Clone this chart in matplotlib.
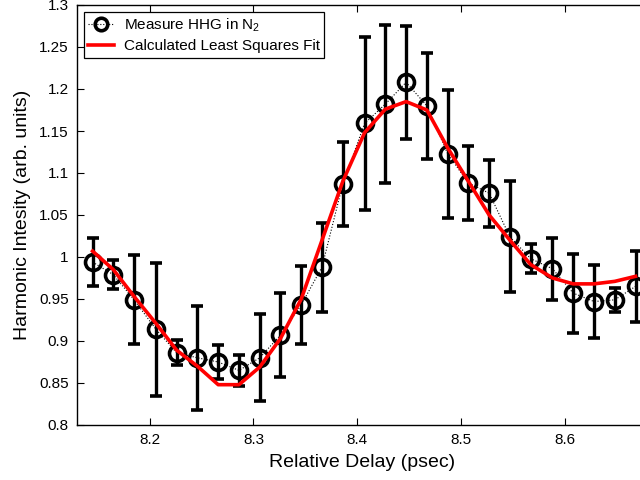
import matplotlib
matplotlib.use("Agg")
import matplotlib.pyplot as plt
from matplotlib.lines import Line2D

plt.rcParams["font.family"] = ["Liberation Sans", "DejaVu Sans"]
plt.rcParams["mathtext.fontset"] = "custom"
plt.rcParams["mathtext.rm"] = "Liberation Sans"
plt.rcParams["mathtext.default"] = "regular"

# Relative delay of each measurement (psec)
delay = [8.145, 8.165, 8.185, 8.206, 8.226, 8.246, 8.266, 8.286, 8.306,
         8.326, 8.346, 8.366, 8.386, 8.407, 8.427, 8.447, 8.467, 8.487,
         8.507, 8.527, 8.547, 8.567, 8.588, 8.608, 8.628, 8.648, 8.668]

# Measured harmonic intensity (arb. units) and its uncertainty
intensity = [0.994, 0.979, 0.949, 0.914, 0.886, 0.880, 0.875, 0.865, 0.880,
             0.907, 0.943, 0.988, 1.087, 1.159, 1.182, 1.208, 1.180, 1.123,
             1.088, 1.076, 1.024, 0.998, 0.986, 0.957, 0.947, 0.949, 0.965]
error = [0.029, 0.017, 0.053, 0.079, 0.015, 0.062, 0.020, 0.018, 0.052,
         0.050, 0.046, 0.053, 0.050, 0.103, 0.094, 0.067, 0.063, 0.076,
         0.044, 0.040, 0.066, 0.017, 0.037, 0.047, 0.044, 0.014, 0.042]

# Least squares fit evaluated at the same delays
fit = [1.007, 0.985, 0.953, 0.921, 0.889, 0.870, 0.848, 0.848, 0.869,
       0.903, 0.950, 1.020, 1.090, 1.148, 1.176, 1.185, 1.175, 1.130,
       1.090, 1.050, 1.020, 0.991, 0.975, 0.968, 0.968, 0.971, 0.977]

xticks = [8.2, 8.3, 8.4, 8.5, 8.6]
yticks = [0.8, 0.85, 0.9, 0.95, 1.0, 1.05, 1.1, 1.15, 1.2, 1.25, 1.3]
ytick_labels = ["0.8", "0.85", "0.9", "0.95", "1", "1.05", "1.1", "1.15",
                "1.2", "1.25", "1.3"]

fig = plt.figure(figsize=(6.4, 4.8), dpi=100)
ax = fig.add_axes([77 / 640, 55 / 480, 571 / 640, 420 / 480])

ax.errorbar(delay, intensity, yerr=error, fmt="o", ls=":", color="black",
            lw=0.8, ms=11.5, mfc="none", mec="black", mew=2.6,
            ecolor="black", elinewidth=2.4, capsize=4.5, capthick=2.4,
            zorder=2)
ax.plot(delay, fit, color="#ff0000", lw=2.6, zorder=3)

ax.set_xlim(8.13, 8.68)
ax.set_ylim(0.8, 1.3)
ax.set_xticks(xticks)
ax.set_xticklabels([f"{t:g}" for t in xticks])
ax.set_yticks(yticks)
ax.set_yticklabels(ytick_labels)
ax.tick_params(direction="in", length=5, width=0.8, labelsize=11,
               top=True, right=True, pad=6)
for s in ax.spines.values():
    s.set_linewidth(1.0)

ax.set_xlabel("Relative Delay (psec)", fontsize=14, labelpad=5)
ax.set_ylabel("Harmonic Intesity (arb. units)", fontsize=14, labelpad=6)

handles = [
    Line2D([], [], color="black", ls=":", lw=0.8, marker="o", ms=9,
           mfc="none", mec="black", mew=2.6),
    Line2D([], [], color="#ff0000", lw=2.6),
]
labels = ["Measure HHG in N$_2$", "Calculated Least Squares Fit"]
leg = ax.legend(handles, labels, loc="upper left", fontsize=11,
                frameon=True, fancybox=False, edgecolor="black",
                framealpha=1, borderaxespad=0.45, handlelength=1.7,
                labelspacing=0.35, borderpad=0.3, handletextpad=0.6)
leg.get_frame().set_linewidth(0.9)

fig.savefig("out.png", dpi=100)
